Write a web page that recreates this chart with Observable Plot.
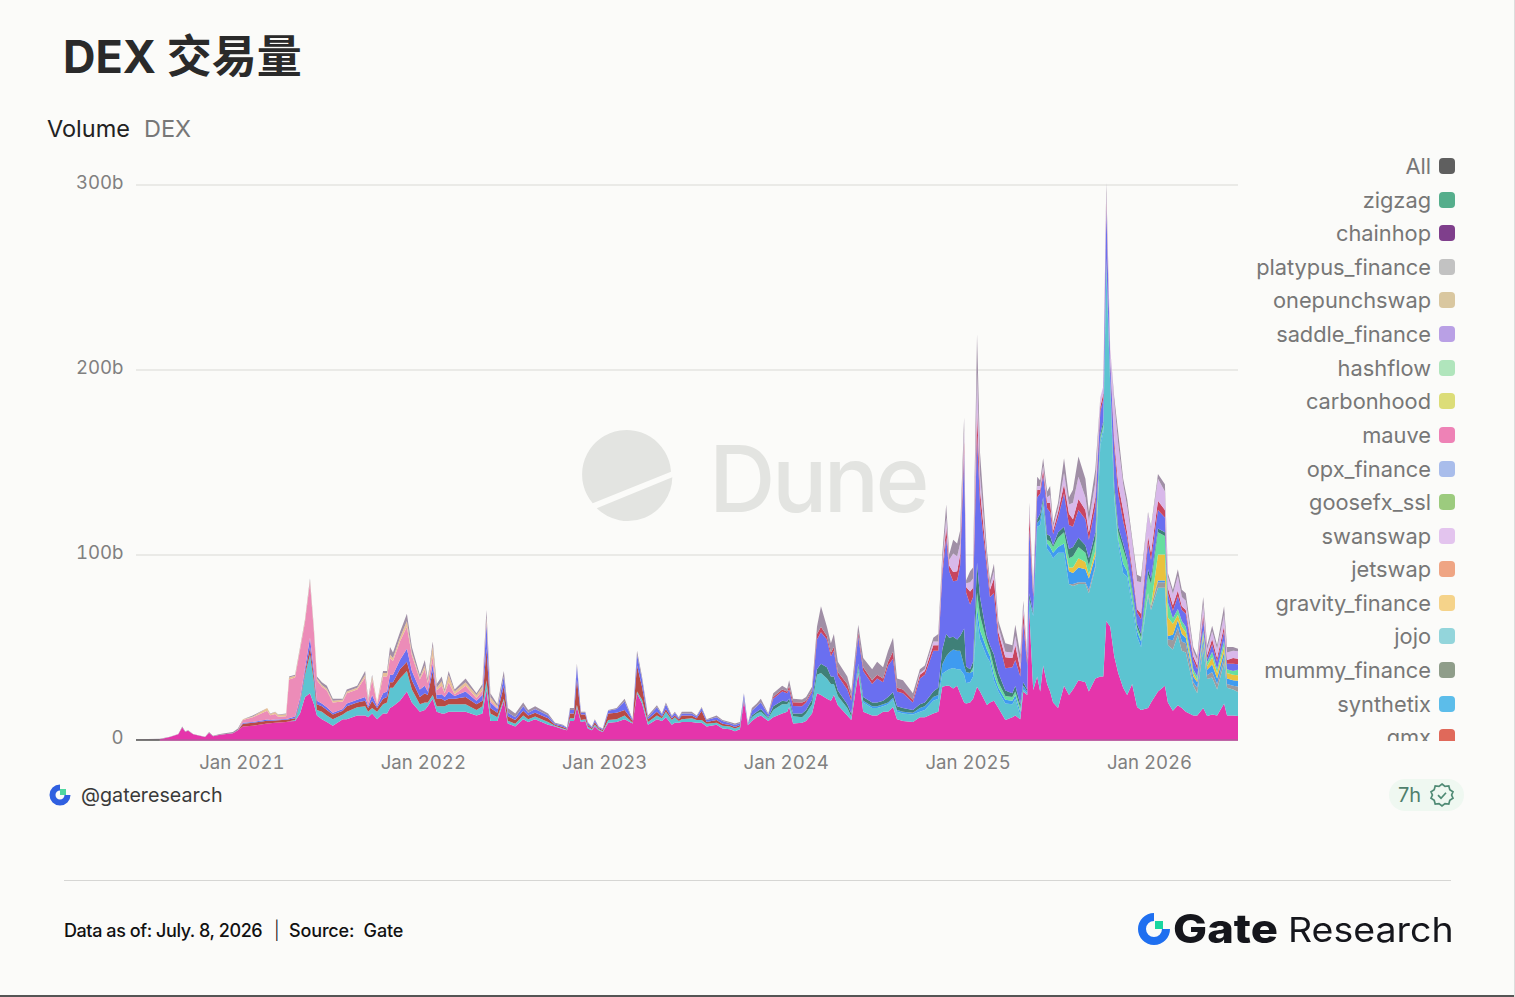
<!DOCTYPE html>
<html lang="zh"><head><meta charset="utf-8"><title>DEX 交易量</title>
<script src="https://cdn.jsdelivr.net/npm/d3@7"></script>
<script src="https://cdn.jsdelivr.net/npm/@observablehq/plot@0.6"></script>
<style>
html,body{margin:0;padding:0;background:#FBFBF9}
#page{position:relative;width:1515px;height:997px;overflow:hidden;background:#FBFBF9;font-family:Inter,sans-serif}
#page>*{position:absolute}
#title{left:63px;top:27px;font:700 45px/60px Inter,"Noto Sans CJK SC",sans-serif;color:#2a2a2a;white-space:nowrap}
#sub{left:47px;top:114px;font:400 23.5px/30px Inter,sans-serif;color:#222;white-space:nowrap}
#sub span{color:#777;margin-left:14px}
#legend{left:1200px;top:150px;width:255px;height:591px;overflow:hidden}
.lg{position:absolute;right:0;display:flex;align-items:center;height:30px;font:400 21.8px/30px Inter,sans-serif;color:#777;white-space:nowrap}
.lg i{display:block;width:16px;height:16px;border-radius:4px;margin-left:8px}
#handle{left:81px;top:781px;font:400 19.7px/28px Inter,sans-serif;color:#3a3a3a}
#badge{left:1389px;top:779px;width:75px;height:32px;border-radius:16px;background:#EFF8F1}
#age{left:1398px;top:781px;font:400 20px/28px Inter,sans-serif;color:#4f7f6c}
#rule{left:64px;top:880px;width:1387px;height:1px;background:#D6D6D4}
.foot{top:917px;font:500 18px/27px Inter,sans-serif;color:#111;white-space:pre}
#foot1{left:64px;letter-spacing:-.42px}
#foot2{left:274px;font-weight:300}
#foot3{left:289px;letter-spacing:-.15px}
#gate{left:1173px;top:901px;font:800 40px/56px Inter,sans-serif;color:#15161c;transform:scaleX(1.134);transform-origin:left}
#research{left:1288px;top:904px;font:400 34px/52px Inter,sans-serif;color:#15161c;transform:scaleX(1.103);transform-origin:left}
#edge{left:0;top:995px;width:1515px;height:2px;background:#555}
#edge2{left:1514px;top:0;width:1px;height:997px;background:#DDD}
#chart{left:0;top:160px}
#chart g[aria-label="area"]{filter:blur(.55px)}
</style></head><body>
<div id="page">
  <svg id="wm" style="left:0;top:0" width="1515" height="997">
    <g fill="#E3E4E1">
      <path d="M592.7 503.3A44.5 44.5 0 1 1 671 471.7Z"/>
      <path d="M596.7 508.3L672.3 477.3A44.5 44.5 0 0 1 596.7 508.3Z"/>
      <text x="709" y="512" font-family="Inter" font-weight="500" font-size="92" letter-spacing="-3.5">Dune</text>
    </g>
  </svg>
  <div id="chart"></div>
  <div id="title">DEX 交易量</div>
  <div id="sub">Volume<span>DEX</span></div>
  <div id="legend"></div>
  <svg style="left:48px;top:783px" width="24" height="24" viewBox="0 0 32 32">
    <path d="M16 2A14 14 0 1 0 30 16H22A6 6 0 1 1 16 10Z" fill="#2F5FE0"/><rect x="16" y="8" width="8" height="8" fill="#4FD7A0"/>
  </svg>
  <div id="handle">@gateresearch</div>
  <div id="badge"></div><div id="age">7h</div>
  <svg style="left:1429px;top:782px" width="26" height="26" viewBox="0 0 26 26" fill="none" stroke="#4f8a74" stroke-width="1.7">
    <path d="M13 2l3 2.4 3.8-.4 1 3.7 3.2 2.1-1.4 3.2 1.4 3.2-3.2 2.1-1 3.7-3.8-.4L13 24l-3-2.4-3.8.4-1-3.7L2 16.2l1.4-3.2L2 9.8l3.2-2.1 1-3.7 3.8.4z"/>
    <path d="M9 13.2l3 3 5-5.5"/>
  </svg>
  <div id="rule"></div>
  <div class="foot" id="foot1">Data as of: July. 8, 2026</div>
  <div class="foot" id="foot2">|</div>
  <div class="foot" id="foot3">Source:  Gate</div>
  <svg style="left:1136px;top:911px" width="36" height="36" viewBox="0 0 36 36">
    <path d="M18 2A16 16 0 1 0 34 18H26A8 8 0 1 1 18 10Z" fill="#1F6FF0"/><rect x="19" y="10" width="8" height="8" fill="#19D6A0"/>
  </svg>
  <div id="gate">Gate</div>
  <div id="research">Research</div>
  <div id="edge"></div><div id="edge2"></div>
</div>
<script>
const startDate = Date.UTC(2020, 5, 3);
const days = [0,48,68,85,93,99,105,115,139,147,155,169,195,205,
215,235,264,270,280,286,302,308,320,330,340,350,358,364,374,384,396,416,424,445,461,467,475,485,497,505,511,517,531,545,555,571,581,587,597,605,615,621,629,641,663,685,697,705,713,727,
740,748,763,779,789,803,829,843,859,867,873,881,887,895,904,909,917,923,931,939,950,967,983,999,1008,1018,1030,1048,1058,1066,1078,1084,1092,1098,1118,1128,1138,1148,1168,1180,1195,1205,1215,1223,1231,
1239,1249,1257,1272,1282,1300,1310,1314,1322,1340,1348,1360,1370,1378,1390,1398,1404,1412,1431,1439,1453,
1463,1481,1491,1503,1513,1523,1531,1543,1563,
1577,1587,1604,1614,1622,1630,1636,1644,1652,1658,1666,1670,
1678,1684,1692,1698,1712,1718,1726,1735,1749,1763,1769,1779,1785,1793,1797,1805,1813,1819,1825,1833,1839,1845,1855,1867,
1877,1885,1896,1910,1917,1930,1940,1946,1952,1960,1968,1976,1986,1994,2004,2014,2022,2036,2042,2056,2070,2076,2086,2096,2104,2112,2127,2135,2147,2155,2165,2175,2189,2195,2207,2217];

// total volume in billions
const allVolume = [.2,.4,1.5,3,7,4.5,5,3,1.5,4,2,3,4,6,
11,13,17,14,15,13.5,14,34,35,50,65,87,60,34,31,29,22,22,27,29,37,22,35,20,37,37,50,47,58,68,50,35,43,33,53,30,34,27,37,27,33,25,30,70,25,19,
37,17,14,20,16,18,14,9,8,6.5,17,17,41,15,15,9.5,7,11,7,6,16,17,22,11,48,34,13,18.5,14,20,13,15,12,15,15,13,17.6,11,13,10.5,9.5,8.6,9.5,25,8.6,
17,19.5,22,14,25,29,27.5,32,22,21.6,23,28.5,61,72,61,52,57,42,34,26,62,
44,38,42,39,48,55,33,32,25,
38,40,55,57,100,127,100,108,106,113,174,86,
91,93,219,155,102,86,95,64,52,51,62,46,75,46,128,82,142,140,152,134,137,117,128,152,
131,135,153,141,123,146,185,191,301,211,185,166,141,130,109,89,88,123,115,143.5,138,90,81,92,81,79,50,45,77,51,61.5,51,72,50,50,49];

const magenta = [0,.2,1.3,2.8,6.5,4.2,4.7,2.8,1.4,3.6,1.8,2.6,3.4,5,
7,7.5,8.6,8.8,9,9.2,9.5,9.8,10,14,23,25,19,13,11,9.5,7.5,11,11,13,13,12,14,11,14,14,17,18,21,26,20,15,16,18,22,15,14,14,15,15,15,13,14,27,10,10,
21,8.6,7,11,9.5,11,8,7,5.5,5,10,10,17.6,9.5,10,6,5,7,5,4,9,9.5,11,8.6,25,19.5,8,11,10,12,8,9,9,9.5,9.5,9,9,7,8,6,5.5,4.5,5.5,21,7.7,
10,12,13,10,12,14,15,17.6,8.6,9,10,14,25,24,22,21,24,18.5,13,10.5,36,
15,13,13,15,15,17.6,11,10,9.5,
12,12,14,15,28.5,29,29,27.6,29,25,20,19.5,
20,22,28.5,26,18.6,20,21,17,10.5,12,13,11,26,24,70,26.7,34,26,40,30,26,20,17,29,
24,27,32,31,26,33,34,34,64,61,45,36,28,24,30,17.6,16,17,20,26,29,20,15.6,18.5,17,15,13,13,17,12.7,13.5,13,19.5,13,13,12.7];

const teal = [.5,6,12,21,12,3,4,3.5,3.5,2.5,4,4.5,5,3,3,4,5,6,11,10,12,11,7,4,4,2,2,3,4,4,4,4,4,3,4,5,4,2,
1,1.5,1.5,2,1.5,1.5,1.5,.5,.5,.3,1.5,1.5,1,1,1,1,.5,1,.5,.5,1.5,1.5,2,.5,1,2,1.5,2,1.5,3,2.5,3,1,1.5,2,1.5,1.5,1.5,1,1.5,1.5,1.5,1.5,1,.2,
2,2,2,1.5,4,5,4,3,4,3,4,5,10,12,11,9,6,5,4,2,3,
5,4,4,3,4,4,4,4,4,
3,4,7,7,7,8,9,11,9,13,15,11,
11,12,37,28,26,22,11,9,9,7,9,2,1,1,5,40,81,90,86,73,75,78,84,72,
60,56,52,53,53,60,125,132,190,130,85,70,62,64,42,38,34,61,50,56,53,31,33,38,31,32,16,12,32,20,20,14,22,15,14,13];

const gray = [1,1,1,2,1,0,0,0,0,0,0,0,0,0,0,0,1,2,3,3,3,5,4,5,5,2,3,3,2,3,3,3,2,2,3];

const sky = [1,1,1,1,1,1,1,1,1,
2,2,2,2,5,8,9,10,10,10,5,6,
5,3,6,5,4,3,3,2,2,2,2,2,2,1,1,1,2,3,2,3,3,3,3,5,
7,6,8,7,6,5,2,2,2,1,2,2,5,3,3,3,3,0,0,1,1,2,3,4,4,3,3,3,3,3,4,3,3,3,3,3];

const yellow = [2,3,5,4,2,3,0,0,0,0,0,0,0,0,0,0,0,0,0,14,14,10,6,3,4,3,2,1,2,2,4,3,3,3,3,3];

const mint = [0,2,8,8,4,3,4,3,2,2,2,2,0,0,0,0,0,0,1,2,3,3,5,6,
5,6,6,5,5,6,2,2,2,1,3,4,8,5,5,2,2,10,12,12,10,8,3,3,3,3,2,2,2,2,3,2,3,2,2,3];

const darkGreen = [1,1,1.5,.5,2,2,1.5,1.5,1.5,2,2,2.5,3,5,6,4,4,3,2,1.5,2,
2,2,2,2,3,3,2,2,1.5,
2,2,3,4,8,12,8,7,6,8,20,3,
2,3,16,10,3,3,7,5,3,2,3,2,2,1,3,1,2,3,2,3,3,1,3,3,
5,5,5,4,4,4,2,2,2,1,3,3,3,2,2,2,2,3,3,2,2,0,0,0,0,0,0,0,0,0,0,0,0,0,0,0];

const brown = [1.5,1.5,1.5,1.3,1.3,1.2,1.2,1.2,1,1,1.5,4,3,3,3,3,2.5,2,3,2.5,3,2,4,2,3,3,3,3,5,5,5,4,5,4,13,4,4,3,3,3,4,3,3,17,3,2.5,
7,2.5,2,2.5,2,2,2,.5,.8,.5,2.5,2.5,14,3,2.5,1,.7,1.5,.7,.7,3.5,3.5,3,1,14,7,1.5,2,1,1.5,1,1,1,2,1.5,1,5,1,1.5,1,.8,.8,.8,.5,0];

const periwinkle = [.5,.5,.7,.5,.5,.4,.4,.5,1,1.5,2,5,3,2,1.5,1.5,1,1,1.5,1.5,2,1,3,1,3,3,4,4,5,7,5,4,4,2,4,2,2.5,2,4,1.5,3,2,3,14,3,2,
5,2,1.5,2.5,1.5,2,1.5,.5,.8,.5,2,2,7,1,1,1,.5,1,.5,.5,1.5,2,4.5,.5,6,4,1,2.5,1,2.5,1,1.5,.5,1,1,1,1.5,1,1.5,1.5,1,1,1,2,.3,
2.5,3,3.5,1.5,4,5,4.5,5,4,4,4,4,16,17,15,11,14,8,8,7,15,
14,10,13,10,17,18,8,8,4,
14,15,22,20,40,52,36,30,32,38,95,40,
35,35,69,50,36,26,33,18,12,14,14,15,32,13,35,8,12,11,12,14,13,6,8,18,
13,11,15,14,10,14,12,12,28,10,20,18,12,11,8,6,8,14,10,10,8,5,4,7,6,7,5,4,6,2,4,4,5,3,4,3];

const crimson = [1,1,1,2,2,2,1,1,3,3,2,2,2,2,3,2,2,
2,2,2,2,2,4,2,2,1.5,
2,2,3,3,3,6,3,5,5,6,6,3,
7,5,14,8,4,4,8,4,6,5,8,4,6,3,8,2,4,2,3,3,5,2,3,5,
6,4,6,5,4,5,3,3,3,2,4,5,6,3,3,2,3,4,4,5,4,3,3,3,2,2,2,2,3,2,3,2,3,2,3,3];

const lavender = [1,1,2,2,4,5,3,10,8,6,6,2,
5,5,20,8,2,2,4,3,3,3,5,3,3,2,3,1,2,2,2,3,4,2,2,6,
5,9,12,7,6,8,5,4,4,5,20,22,14,14,14,15,17,12,13,12,10,6,6,8,5,5,3,3,5,3,4,5,6,4,4,4];

const pink = [1.5,2.5,4.7,2.5,3,1.5,1.5,21,21,26,25,30,21,11,9,9,5.5,4,5.5,5.5,10.5,2,8.5,1,9,8,9,7.5,10,12,8.5,5.5,9,4.5,4,2.5,4.5,2,5,1,3,1.5,2.5,1,1,.5];
const tan = [.5,.5,1.5,.7,1,1,1,1,1,1,1,1,1,1,1,1,1,1,1,1,1.5,1,1.5,1,2,2,2,1.5,2,3,1.5,1,2,1,5.5,1.5,2.5,1,4,1.5,2,1.5,2,2,2,1];

const legendNames = ["All","zigzag","chainhop","platypus_finance","onepunchswap","saddle_finance","hashflow","carbonhood","mauve","opx_finance","goosefx_ssl","swanswap","jetswap","gravity_finance","jojo","mummy_finance","synthetix","gmx"];
const legendColors = ["#5F5F5F","#55AE8C","#7F3F8C","#C2C2C2","#D9C7A0","#B9A0E5","#B0E5BC","#DCDD78","#EE82B6","#A9BDEB","#9CCB7E","#E3C4EE","#EFA584","#F5D38A","#93D5DB","#8F9D8A","#5CBDEA","#E0695A"];
const legendRows = [165.5,199.5,232.5,266.5,299.5,333.5,367.5,400.5,434.5,468.5,501.5,535.5,568.5,602.5,635.5,669.5,703.5,736.5];

const yTicks = [0,100,200,300];
const xTickYears = [2021,2022,2023,2024,2025,2026];

// Place a partial series on the shared day list, checking that it lines up.
function place(values, firstDay, lastDay){
  const i = days.indexOf(firstDay);
  const j = days.indexOf(lastDay);
  if (i<0||j<0||j-i+1!==values.length) throw new Error(`series ${firstDay}-${lastDay}: ${values.length} vs ${j-i+1}`);
  return days.map((_,k)=> k>=i&&k<=j ? values[k-i] : 0);
}
const end = 2217;
const layers = [
  ["magenta",  place(magenta,0,end),     "#E535AB"],
  ["teal",     place(teal,320,end),      "#5CC4D1"],
  ["gray",     place(gray,1885,end),     "#9B9B9F"],
  ["sky",      place(sky,1463,end),      "#3F9BF0"],
  ["yellow",   place(yellow,1877,end),   "#E9C23E"],
  ["mint",     place(mint,1678,end),     "#66DE9F"],
  ["darkGreen",place(darkGreen,1239,end),"#3F8078"],
  ["brown",    place(brown,215,1231),    "#B84A45"],
  ["periwinkle",place(periwinkle,215,end),"#6A6FF0"],
  ["crimson",  place(crimson,1282,end),  "#C8455F"],
  ["lavender", place(lavender,1577,end), "#D8B8EA"],
  ["pink",     place(pink,215,727),      "#EC8CB8"],
  ["tan",      place(tan,215,727),       "#E8C096"]
];
if (allVolume.length!==days.length) throw new Error("all "+allVolume.length+" vs "+days.length);
const rest = allVolume.map((v,k)=>Math.max(0,v-d3.sum(layers,l=>l[1][k])));
layers.push(["rest",rest,"#A08FA6"]);

const toDate = d => new Date(startDate + d*864e5);
const rows = layers.flatMap(([series,vals])=>days.map((d,k)=>({date:toDate(d),series,value:vals[k]})));

const chart = Plot.plot({
  width:1515, height:610,
  marginLeft:136, marginRight:277, marginTop:24.5, marginBottom:30.5,
  style:{background:"transparent",fontFamily:"Inter, sans-serif",fontSize:"18.6px",color:"#808080",overflow:"visible"},
  x:{type:"utc",domain:[toDate(0),toDate(end)]},
  y:{domain:[0,300]},
  color:{domain:layers.map(l=>l[0]),range:layers.map(l=>l[2])},
  marks:[
    Plot.gridY(yTicks,{stroke:"#E4E4E1",strokeOpacity:1,strokeWidth:1.5}),
    Plot.areaY(rows,{x:"date",y:"value",fill:"series",order:layers.map(l=>l[0]),curve:"linear"}),
    Plot.ruleY([0],{x1:toDate(48),x2:toDate(end),stroke:"#B23A92",strokeWidth:1.5}),
    Plot.ruleY([0],{x1:toDate(0),x2:toDate(48),stroke:"#555",strokeWidth:1.5}),
    Plot.axisY(yTicks,{tickSize:0,tickPadding:13,tickFormat:d=>d?d+"b":"0",dy:-2,label:null,fill:"#808080"}),
    Plot.axisX(xTickYears.map(y=>new Date(Date.UTC(y,0,1))),{tickSize:0,tickPadding:16,tickFormat:d3.utcFormat("Jan %Y"),label:null,fill:"#808080"})
  ]
});
document.getElementById("chart").append(chart);

const lg = document.getElementById("legend");
legendNames.forEach((n,i)=>{
  const d=document.createElement("div");
  d.className="lg"; d.style.top=(legendRows[i]-150-15)+"px";
  d.innerHTML=`<span>${n}</span><i style="background:${legendColors[i]}"></i>`;
  lg.append(d);
});
</script>
</body></html>
